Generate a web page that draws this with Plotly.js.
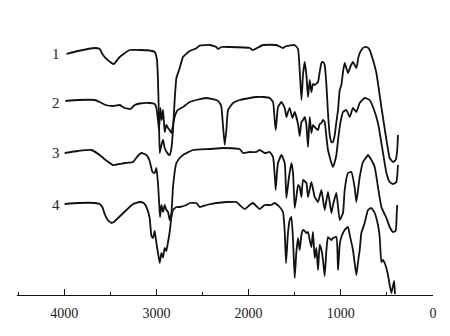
<!DOCTYPE html>
<html>
<head>
<meta charset="utf-8">
<script src="https://cdn.plot.ly/plotly-3.0.1.min.js"></script>
<style>html,body{margin:0;padding:0;background:#fff}#chart{width:450px;height:336px}</style>
</head>
<body>
<div id="chart"></div>
<script>
// Wavenumbers (cm^-1) and offset transmittance readings for each spectrum
const wn1 = [3976,3850,3669,3615,3579,3528,3463,3398,3290,3181,3073,3018,2994,2983,2972,2964,2946,2928,2910,2874,2856,2837,2820,2802,2783,2747,2712,2639,2566,2530,2422,2349,2332,2295,2205,1988,1955,1844,1698,1627,1590,1500,1464,1446,1427,1410,1392,1373,1356,1337,1319,1302,1283,1247,1229,1210,1193,1175,1156,1139,1120,1102,1085,1066,1048,1030,1012,994,976,958,922,893,868,831,806,777,741,708,687,651,614,560,505,470,434,405,388,380];
const t1  = [241,244,247,246,240,235,231,238,245,245,244.5,243,235,215,175,142,150,155,147,141,140,147,165,195,217,227,238,244,246.7,249.5,250,248,246,248,248,247,245,250,250,247,249,250,246,225,195,220,233,220,198,215,203,211,210,213,223,232,233,230,210,182,160,153,153,160,173,185,205,210,223,232,222,229,233,227,239,245,248,247.5,245,235,222,188,155,137,133,135,145,160];

const wn2 = [3986,3850,3669,3615,3550,3471,3398,3344,3279,3235,3181,3073,3018,3000,2983,2972,2957,2943,2928,2910,2892,2874,2856,2837,2820,2802,2769,2712,2639,2566,2458,2349,2313,2295,2278,2259,2241,2223,2169,2097,1988,1915,1844,1771,1735,1717,1706,1695,1681,1644,1608,1590,1573,1554,1525,1500,1464,1446,1427,1410,1392,1373,1356,1337,1319,1302,1283,1247,1229,1210,1193,1175,1156,1139,1120,1102,1085,1066,1048,1030,1012,994,976,939,903,868,831,795,741,708,687,651,597,542,505,470,434,397,380];
const t2  = [194,195,195,193,190,189,190,187,186,190,191.5,192,191,187,175,165,187,175,185,163,170,167,165,162,170,178,185,188,193,195,197,195,192,188,170,150,165,185,192,195,197,198,198,197,193,175,165,175,188,193,187,178,183,187,177,183,171,159,173,175,178,170,148,178,162,170,168,165,171,172,175,173,158,145,138,132,128,133,140,155,168,177,183,185,178,187,183,192,197,196,195,188,172,142,122,113,111,113,130];

const wn3 = [3995,3850,3705,3615,3550,3471,3398,3344,3254,3203,3163,3108,3073,3043,3018,3000,2983,2972,2961,2946,2928,2910,2892,2874,2856,2837,2820,2783,2747,2712,2603,2422,2278,2097,2061,1988,1915,1880,1825,1771,1735,1717,1706,1690,1681,1644,1608,1590,1562,1536,1518,1500,1482,1464,1446,1427,1410,1373,1356,1319,1283,1247,1210,1175,1139,1102,1085,1048,1012,976,958,922,885,849,831,795,759,722,705,668,632,597,560,505,470,434,405,394,388];
const t3  = [142,144,145,140,135,130,131,132,133,139,142,140,134,123,122,127,112,95,78,90,83,90,85,83,75,82,108,132,137,140,145,146,147,146,142,143,143,145,142,143,138,120,105,125,132,140,132,97,118,132,122,87,98,110,108,98,115,112,98,113,98,93,105,85,103,82,90,102,75,82,105,122,123,107,93,118,133,138,140,135,128,108,88,77,68,63,64,80,90];

const wn4 = [3995,3850,3669,3615,3582,3561,3528,3488,3463,3416,3325,3254,3181,3138,3108,3073,3054,3037,3018,3000,2983,2964,2946,2928,2910,2892,2874,2856,2837,2820,2783,2747,2675,2639,2566,2530,2458,2349,2241,2132,2097,2042,1988,1952,1880,1825,1753,1717,1663,1627,1608,1594,1573,1554,1536,1518,1500,1482,1464,1446,1427,1410,1392,1373,1356,1337,1319,1302,1283,1265,1247,1229,1210,1193,1175,1156,1139,1102,1085,1048,1030,1012,994,958,922,903,868,831,813,795,777,741,705,668,632,597,578,560,542,524,488,470,451,434,421,412];
const t4  = [91,92,92,91,87,81,75,72,73,77,85,91,93,92,88,77,59,57,64,52,42,32,42,37.5,47,44,53,63,78,85,88,88,90,92,92,88,90,92,93,93,90,86,90,92,86,90,90,92,88,83,63,32,62,75,78,55,17,43,57,45,60,65,64,62,63,55,48,63,37,47,25,50,45,35,19,45,58,55,57,58,25,50,58,65,68,60,45,20,33,45,62,72,85,87,82,70,58,33,35,32,20,10,2,9,14,1];

const xTicks = [4000,3000,2000,1000,0];
const xTickLabels = ['4000','3000','2000','1000','0'];
const curveLabels = ['1','2','3','4'];
const labelY = [241,192,142,90];

const lineStyle = {color:'#111', width:1.8, shape:'spline', smoothing:0.4};
const traces = [[wn1,t1],[wn2,t2],[wn3,t3],[wn4,t4]].map(([x,y]) => ({
  x:x, y:y, type:'scatter', mode:'lines', line:lineStyle, hoverinfo:'skip', showlegend:false
}));

const serif = 'Liberation Serif, Times New Roman, DejaVu Serif, serif';
const annotations = curveLabels.map((t,i) => ({
  x:4020, y:labelY[i], xref:'x', yref:'y', text:t, showarrow:false,
  xanchor:'right', yanchor:'middle', font:{family:serif, size:15, color:'#222'}
}));

const layout = {
  width:450, height:336,
  margin:{l:17, r:17, t:0, b:41, pad:0},
  paper_bgcolor:'#fff', plot_bgcolor:'#fff',
  showlegend:false,
  xaxis:{
    range:[4512,0], showgrid:false, zeroline:false,
    showline:true, linecolor:'#111', linewidth:1.3,
    ticks:'inside', ticklen:6, tickwidth:1.3, tickcolor:'#111',
    tickmode:'array', tickvals:xTicks, ticktext:xTickLabels,
    ticklabelstandoff:5,
    tickfont:{family:serif, size:14, color:'#222'},
    minor:{ticks:'inside', ticklen:3, tickwidth:1, tickcolor:'#111', tickmode:'linear', tick0:0, dtick:500, showgrid:false}
  },
  yaxis:{range:[0,295], visible:false, showgrid:false, zeroline:false},
  annotations:annotations
};

Plotly.newPlot('chart', traces, layout, {staticPlot:true, displayModeBar:false});
</script>
</body>
</html>
